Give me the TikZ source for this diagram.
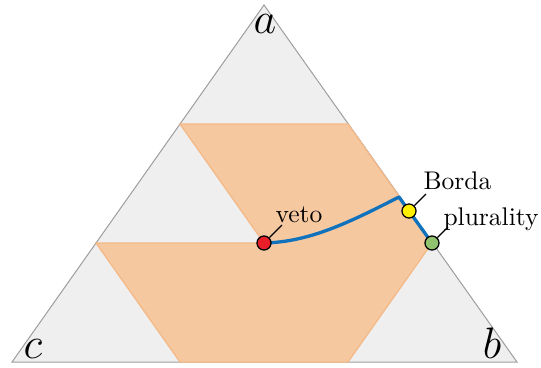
\documentclass[tikz,border=0pt]{standalone}
\definecolor{regionfill}{RGB}{245,200,160}
\definecolor{regionedge}{RGB}{245,185,135}
\definecolor{pathblue}{RGB}{16,114,189}
\definecolor{dotred}{RGB}{232,30,40}
\definecolor{dotgreen}{RGB}{145,195,110}
\definecolor{dotyellow}{RGB}{255,240,0}
\definecolor{simplexfill}{RGB}{239,239,239}
\begin{document}
\begin{tikzpicture}[x=0.392pt,y=-0.392pt,
  simplex/.style={fill=simplexfill, draw=gray!75, line width=0.4pt},
  region/.style={fill=regionfill, draw=regionedge, line width=0.5pt},
  path/.style={draw=pathblue, line width=1.3pt, line join=round},
  dot/.style={circle, draw=black, line width=0.5pt, inner sep=0pt, minimum size=5.5pt},
  lab/.style={inner sep=0pt, font=\fontsize{10}{12}\selectfont},
  vertex/.style={inner sep=0pt, font=\fontsize{16}{18}\selectfont},
  leader/.style={draw=black, line width=0.5pt}]
\useasboundingbox (0,0) rectangle (541,367);

% simplex with vertices a, b, c
\coordinate (A) at (264,5);
\coordinate (B) at (517,362);
\coordinate (C) at (12,362);
\path[simplex] (A) -- (B) -- (C) -- cycle;

% highlighted region on the one-third grid
\path[region] (180,124) -- (348,124) -- (432,243) -- (348,362) -- (180,362)
  -- (96,243) -- (264,243) -- cycle;

\node[vertex, anchor=base] (la) at (265,33) {$a$};
\node[vertex, anchor=base] (lb) at (492,358) {$b$};
\node[vertex, anchor=base] (lc) at (33,358) {$c$};

% rule path
\coordinate (pv) at (264,243);
\coordinate (bend) at (399,197);
\coordinate (pb) at (409,211);
\coordinate (pp) at (432,243);
\draw[path] (pv) .. controls (310,242) and (350,222) .. (bend) -- (pb) -- (pp);

\node[dot, fill=dotred] (veto) at (pv) {};
\node[dot, fill=dotyellow] (borda) at (pb) {};
\node[dot, fill=dotgreen] (plur) at (pp) {};

\node[lab, anchor=base west] (vetolab) at (275,222) {veto};
\node[lab, anchor=base west] (bordalab) at (423,189) {Borda};
\node[lab, anchor=base west] (plurlab) at (443,225) {plurality};

\draw[leader] (veto) -- ([shift={(7,3)}]vetolab.base west);
\draw[leader] (borda) -- ([shift={(3,5)}]bordalab.base west);
\draw[leader] (plur) -- ([shift={(5,2)}]plurlab.base west);
\end{tikzpicture}
\end{document}
